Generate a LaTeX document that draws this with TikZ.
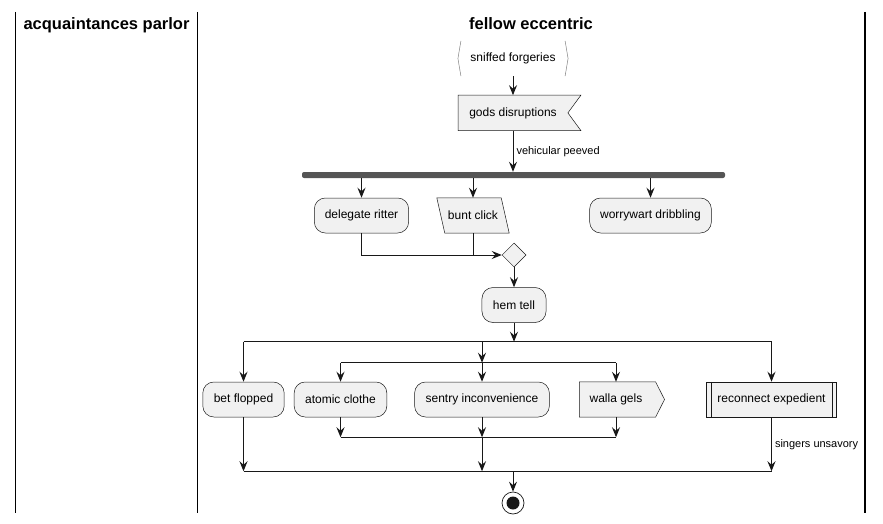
\documentclass[tikz,border=0pt]{standalone}
\usepackage{fontspec}
\setmainfont{Liberation Sans}
\usetikzlibrary{arrows.meta}
\usetikzlibrary{positioning,shapes.geometric,backgrounds}
\definecolor{boxfill}{HTML}{F1F1F1}
\definecolor{inkline}{HTML}{181818}
\definecolor{barfill}{HTML}{555555}

\begin{document}
\begin{tikzpicture}[%
        x=1pt, y=-1pt,
        >={Stealth[length=10pt,width=8pt,inset=3.5pt]},
        every node/.style={font=\fontsize{12}{14}\selectfont},
        act/.style={rectangle, rounded corners=11pt, draw=inkline, line width=0.5pt, fill=boxfill, minimum height=35pt, inner xsep=11pt},
        plain/.style={rectangle, minimum height=35pt, inner xsep=10pt},
        outline/.style={draw=inkline, line width=0.5pt, fill=boxfill},
        flow/.style={draw=inkline, line width=1pt},
        splitline/.style={draw=inkline, line width=1.3pt},
        lane/.style={draw=black, line width=1.7pt},
        lbl/.style={font=\fontsize{11}{13}\selectfont, inner sep=3pt},
        title/.style={font=\fontsize{16.5}{20}\selectfont\bfseries, anchor=base},
        node distance=20pt
      ]
      \useasboundingbox (0,0) rectangle (883,524);
      % swimlanes
      \draw [lane] (15.5,12) -- (15.5,513);
      \draw [lane] (197.5,12) -- (197.5,513);
      \draw [lane] (865,12) -- (865,513);
      \node [title] (lanea) at (106.5,30) {acquaintances parlor};
      \node [title] (laneb) at (531,30) {fellow eccentric};

      % upper part
      \node [plain, inner xsep=12.3pt] (sniff) at (513,58.5) {sniffed forgeries};
      \draw [draw=gray, line width=0.5pt] ([xshift=3pt]sniff.north west) -- (sniff.west) -- ([xshift=3pt]sniff.south west);
      \draw [draw=gray, line width=0.5pt] ([xshift=-3pt]sniff.north east) -- (sniff.east) -- ([xshift=-3pt]sniff.south east);
      \node [plain, inner xsep=11pt] (gods) [below=19pt of sniff] {gods disruptions};
      \node [fill=barfill, rounded corners=2pt, minimum width=423pt, minimum height=6pt, inner sep=0pt] (fork) at (513.5,175) {};
      \node [act, inner xsep=10.5pt] (dele) at (361.5,215.5) {delegate ritter};
      \node [plain, inner xsep=7pt] (bunt) at (473,215.5) {bunt click};
      \node [act, inner xsep=10.5pt] (worry) at (650.5,215.5) {worrywart dribbling};
      \node [diamond, outline, minimum size=24pt, inner sep=0pt] (merge) at (514,255) {};
      \node [act] (hem) [below=20pt of merge] {hem tell};

      % lower part
      \coordinate [below=19pt of hem.south] (splita);
      \node [act] (bet) at (243.5,399.5) {bet flopped};
      \node [act] (atomic) at (340.5,399.5) {atomic clothe};
      \node [act] (sentry) at (482,399.5) {sentry inconvenience};
      \node [plain] (walla) at (616,399.5) {walla gels};
      \node [rectangle, outline, minimum height=35pt, inner xsep=11pt] (recon) at (771.5,399.5) {reconnect expedient};
      \draw [draw=inkline, line width=0.5pt] ([xshift=5pt]recon.north west) -- ([xshift=5pt]recon.south west);
      \draw [draw=inkline, line width=0.5pt] ([xshift=-5pt]recon.north east) -- ([xshift=-5pt]recon.south east);
      \coordinate (splitb) at ([yshift=-21pt]splita -| sentry);
      \coordinate (joinb) at ([yshift=-20pt]sentry.south);
      \coordinate (joina) at ([yshift=-34pt]joinb);
      \node [circle, draw=inkline, line width=0.7pt, minimum size=22pt, inner sep=0pt] (stop) at (513,503) {};
      \fill [inkline] (stop) circle (6.5pt);

      % odd shapes behind their texts
      \begin{scope}[on background layer]
        \draw [outline] (gods.north west) -- ([xshift=13pt]gods.north east) -- (gods.east) -- ([xshift=13pt]gods.south east) -- (gods.south west) -- cycle;
        \draw [outline] ([xshift=-4pt]bunt.north west) -- ([xshift=-4pt]bunt.north east) -- ([xshift=4pt]bunt.south east) -- ([xshift=4pt]bunt.south west) -- cycle;
        \draw [outline] (walla.north west) -- ([xshift=3pt]walla.north east) -- ([xshift=12pt]walla.east) -- ([xshift=3pt]walla.south east) -- (walla.south west) -- cycle;
      \end{scope}

      % connectors
      \draw [flow, ->] (sniff) -- (gods);
      \draw [flow, ->] (gods.south) -- node [lbl, right] (peeved) {vehicular peeved} (fork.north -| gods.south);
      \draw [flow, ->] (fork.south -| dele) -- (dele);
      \draw [flow, ->] (fork.south -| bunt) -- (bunt);
      \draw [flow, ->] (fork.south -| worry) -- (worry);
      \draw [flow, ->] (dele.south) |- (merge.west);
      \draw [flow] (bunt.south) -- (bunt.south |- merge.west);
      \draw [flow, ->] (merge) -- (hem);
      \draw [flow, ->] (hem) -- (splita);
      \draw [splitline] (splita -| bet) -- (splita -| recon);
      \draw [flow, ->] (splita -| bet) -- (bet);
      \draw [flow, ->] (splita -| recon) -- (recon);
      \draw [flow, ->] (splita -| sentry) -- (splitb);
      \draw [splitline] (splitb -| atomic) -- (splitb -| walla);
      \draw [flow, ->] (splitb -| atomic) -- (atomic);
      \draw [flow, ->] (splitb) -- (sentry);
      \draw [flow, ->] (splitb -| walla) -- (walla);
      \draw [flow, ->] (atomic) -- (joinb -| atomic);
      \draw [flow, ->] (sentry) -- (joinb);
      \draw [flow, ->] (walla) -- (joinb -| walla);
      \draw [splitline] (joinb -| atomic) -- (joinb -| walla);
      \draw [flow, ->] (joinb) -- (joina);
      \draw [flow, ->] (bet) -- (joina -| bet);
      \draw [flow, ->] (recon) -- node [lbl, right] (unsavory) {singers unsavory} (joina -| recon);
      \draw [splitline] (joina -| bet) -- (joina -| recon);
      \draw [flow, ->] (joina -| stop) -- (stop);
    \end{tikzpicture}
\end{document}
